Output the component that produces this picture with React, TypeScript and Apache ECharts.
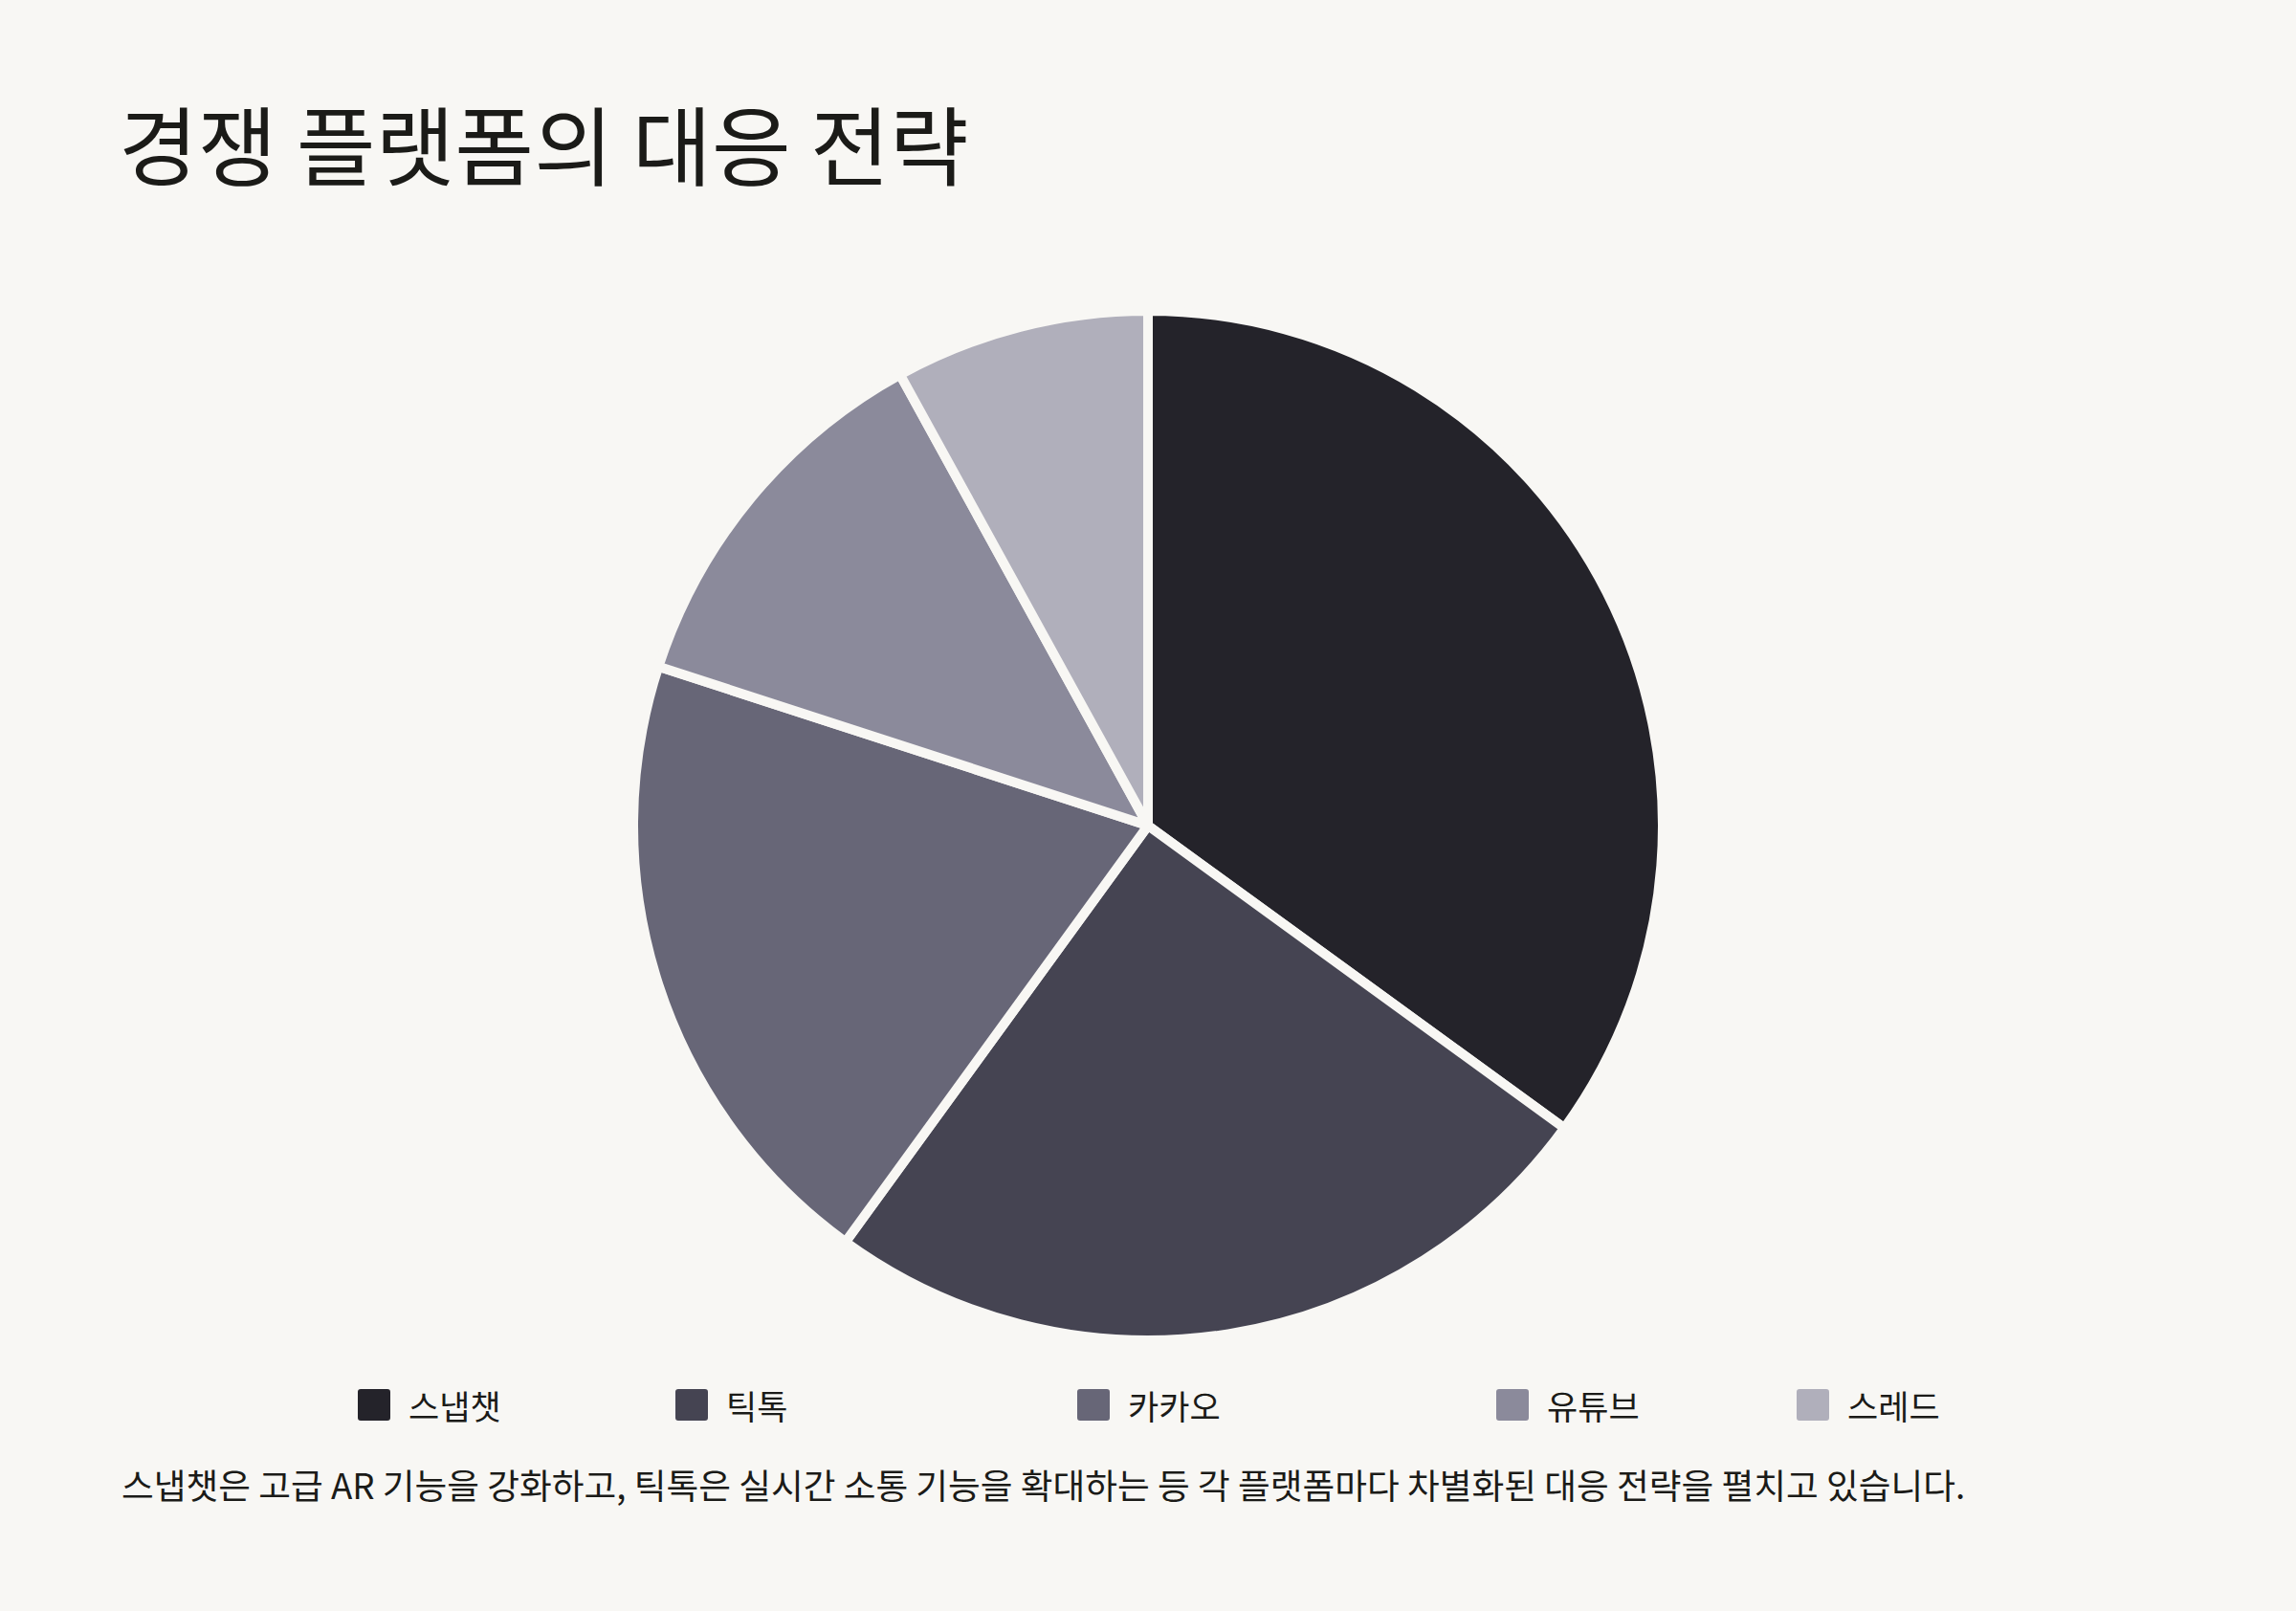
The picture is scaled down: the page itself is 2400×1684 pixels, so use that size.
import { useEffect, useRef } from 'react'
import * as echarts from 'echarts'

// 슬라이스 데이터 (12시 방향부터 시계방향)
const platforms = ['스냅챗', '틱톡', '카카오', '유튜브', '스레드']
const shares = [35, 25, 20, 12, 8]
const colors = ['#24232a', '#454452', '#676677', '#8b8a9b', '#b0afbb']
// 범례 항목별 왼쪽 위치 (원본 배치가 불규칙해서 항목마다 따로 둠)
const legendLefts = [372, 704, 1124, 1562, 1876]

const titleText = '경쟁 플랫폼의 대응 전략'
const noteText =
  '스냅챗은 고급 AR 기능을 강화하고, 틱톡은 실시간 소통 기능을 확대하는 등 각 플랫폼마다 차별화된 대응 전략을 펼치고 있습니다.'

const BG = '#f8f7f4'
const FONT = '"Noto Sans CJK KR", "Noto Sans", sans-serif'
const INK = '#1b1b18'
// 모서리만 살짝 둥근 사각형 아이콘
const ICON = 'path://M4,0H32Q36,0 36,4V31Q36,35 32,35H4Q0,35 0,31V4Q0,0 4,0Z'

export default function App() {
  const elRef = useRef<HTMLDivElement>(null)

  useEffect(() => {
    document.body.style.margin = '0'
    document.body.style.background = BG
    if (!elRef.current) return
    const chart = echarts.init(elRef.current, undefined, { renderer: 'svg' })
    chart.setOption({
      animation: false,
      backgroundColor: BG,
      title: [
        {
          text: titleText,
          left: 124,
          top: 103,
          padding: 0,
          textStyle: { fontFamily: FONT, fontSize: 90, fontWeight: 'normal', color: INK },
        },
        {
          text: noteText,
          left: 127,
          top: 1533,
          padding: 0,
          textStyle: { fontFamily: FONT, fontSize: 36.7, fontWeight: 'normal', color: INK },
        },
      ],
      // 범례 하나당 항목 하나
      legend: platforms.map((name, i) => ({
        data: [name],
        left: legendLefts[i],
        top: 1450,
        padding: 0,
        icon: ICON,
        itemWidth: 36,
        itemHeight: 35,
        selectedMode: false,
        textStyle: {
          fontFamily: FONT,
          fontSize: 35,
          color: INK,
          padding: [0, 0, 0, 13],
        },
      })),
      series: [
        {
          type: 'pie',
          center: [1200, 863],
          radius: 538,
          startAngle: 90,
          clockwise: true,
          label: { show: false },
          labelLine: { show: false },
          emphasis: { disabled: true },
          itemStyle: { borderColor: BG, borderWidth: 10 },
          data: platforms.map((name, i) => ({
            name,
            value: shares[i],
            itemStyle: { color: colors[i] },
          })),
        },
      ],
    })
    return () => chart.dispose()
  }, [])

  return <div ref={elRef} style={{ width: 2400, height: 1684 }} />
}
